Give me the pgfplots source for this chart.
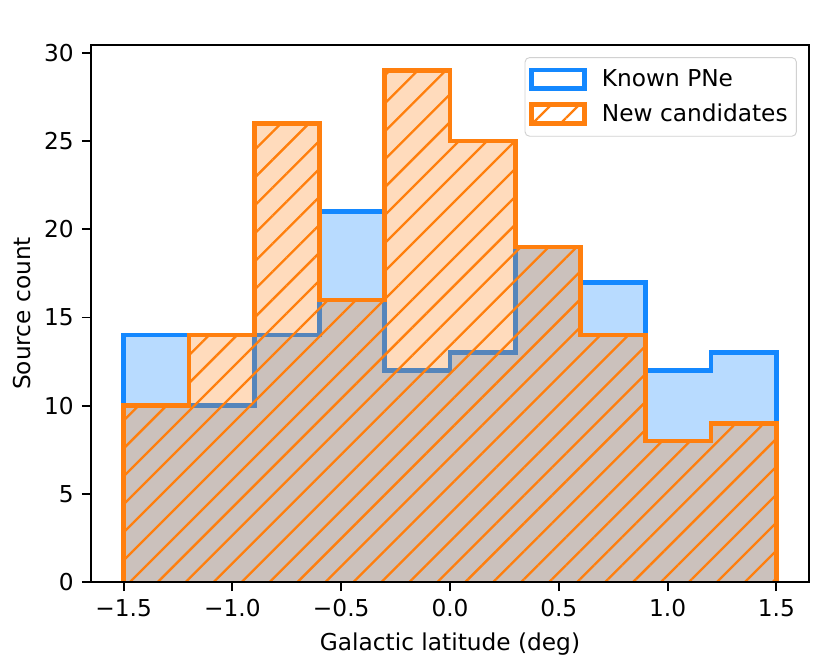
\documentclass[border=0pt]{standalone}
\usepackage{fontspec}
\setmainfont{DejaVu Sans}
\usepackage{pgfplots}
\pgfplotsset{compat=1.18}
\usetikzlibrary{patterns.meta}
\definecolor{knownblue}{RGB}{20,136,255}
\definecolor{candorange}{RGB}{255,127,14}
\newcommand\mpl{\fontsize{10bp}{12bp}\selectfont}

\begin{document}
\begin{tikzpicture}[font=\mpl]
\useasboundingbox (-39.13bp,-31.82bp) rectangle (318.2bp,250.26bp);
\begin{axis}[
    scale only axis, width=308.74bp, height=230.91bp,
    at={(0,0)}, anchor=south west,
    xmin=-1.65, xmax=1.65, ymin=0, ymax=30.45,
    axis on top,
    axis line style={line width=0.8bp},
    every tick/.style={line width=0.8bp, black},
    major tick length=3.9bp, tick align=outside,
    xtick pos=bottom, ytick pos=left,
    xtick={-1.5,-1,-0.5,0,0.5,1,1.5},
    xticklabels={−1.5,−1.0,−0.5,0.0,0.5,1.0,1.5},
    ytick={0,5,10,15,20,25,30},
    yticklabels={0,5,10,15,20,25,30},
    xlabel={Galactic latitude (deg)},
    ylabel={Source count},
    every axis y label/.style={at={([xshift=-29.7bp]axis description cs:0,0.5)}, rotate=90, anchor=center},
    legend style={at={(axis description cs:1,1)}, anchor=north east,
        xshift=-5.2bp, yshift=-5.2bp, draw=black!18, rounded corners=2bp,
        fill=white, fill opacity=0.8, text opacity=1, font=\mpl,
        inner xsep=1.8bp, inner ysep=3bp, row sep=2bp,
        /tikz/every odd column/.append style={column sep=4.5bp}},
    legend cell align=left,
]
% Known PNe
\addplot[const plot, draw=none, fill=knownblue, fill opacity=0.3, forget plot] coordinates {
    (-1.5,14) (-1.2,10) (-0.9,14) (-0.6,21) (-0.3,12) (0,13)
    (0.3,19) (0.6,17) (0.9,12) (1.2,13) (1.5,13)} \closedcycle;
\addplot[const plot, draw=knownblue, line width=2bp, line join=miter, forget plot] coordinates {
    (-1.5,0) (-1.5,14) (-1.2,10) (-0.9,14) (-0.6,21) (-0.3,12) (0,13)
    (0.3,19) (0.6,17) (0.9,12) (1.2,13) (1.5,13) (1.5,0)};
% New candidates
\addplot[const plot, draw=none, fill=candorange, fill opacity=0.28, forget plot] coordinates {
    (-1.5,10) (-1.2,14) (-0.9,26) (-0.6,16) (-0.3,29) (0,25)
    (0.3,19) (0.6,14) (0.9,8) (1.2,9) (1.5,9)} \closedcycle;
\addplot[const plot, draw=none, pattern={Lines[angle=45,distance=8.5bp,line width=1bp]},
    pattern color=candorange, forget plot] coordinates {
    (-1.5,10) (-1.2,14) (-0.9,26) (-0.6,16) (-0.3,29) (0,25)
    (0.3,19) (0.6,14) (0.9,8) (1.2,9) (1.5,9)} \closedcycle;
\addplot[const plot, draw=candorange, line width=2bp, line join=miter, forget plot] coordinates {
    (-1.5,0) (-1.5,10) (-1.2,14) (-0.9,26) (-0.6,16) (-0.3,29) (0,25)
    (0.3,19) (0.6,14) (0.9,8) (1.2,9) (1.5,9) (1.5,0)};

\addlegendimage{legend image code/.code={
    \draw[sharp corners, draw=knownblue, line width=2bp, fill=white] (0bp,-4bp) rectangle (22.8bp,4bp);}}
\addlegendentry{Known PNe}
\addlegendimage{legend image code/.code={
    \draw[sharp corners, draw=candorange, line width=2bp, fill=white,
      postaction={pattern={Lines[angle=45,distance=8.5bp,line width=1bp]}, pattern color=candorange}]
      (0bp,-4bp) rectangle (22.8bp,4bp);}}
\addlegendentry{New candidates}
\end{axis}
\end{tikzpicture}
\end{document}
